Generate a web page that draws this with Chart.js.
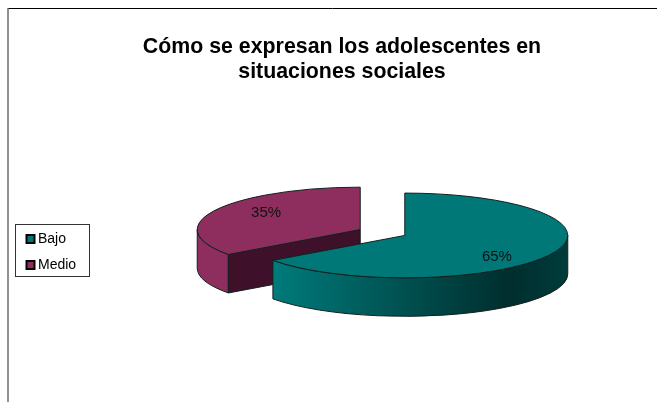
<!DOCTYPE html>
<html>
<head>
<meta charset="utf-8">
<script src="https://cdn.jsdelivr.net/npm/chart.js@4"></script>
<style>
    body { margin: 0; background: #fff; }
    canvas { display: block; }
</style>
</head>
<body>
<canvas id="pie-chart" width="657" height="402"></canvas>
<script>
const categories = ["Bajo", "Medio"];
const percents = [65, 35];
const titleLines = ["Cómo se expresan los adolescentes en", "situaciones sociales"];

const topColors = ["#007878", "#8e2e5e"];

const FONT = "'Liberation Sans', Arial, sans-serif";
const PIE_X = 382.5;
const PIE_Y = 232.5;
const SQUASH = 0.26;
const DEPTH = 38.5;
const EXPLODE = 25;
const EDGE = "#14201f";

const toPie = (ctx, chart) => {
    const area = chart.chartArea;
    ctx.translate(PIE_X, PIE_Y);
    ctx.scale(1, SQUASH);
    ctx.translate(-(area.left + area.right) / 2, -(area.top + area.bottom) / 2);
}

const drawWall = (ctx, chart, arc, fill) => {
    const r = arc.outerRadius;
    const d = DEPTH / SQUASH;
    const from = Math.max(arc.startAngle, 0);
    const to = Math.min(arc.endAngle, Math.PI);

    ctx.save();
    toPie(ctx, chart);
    ctx.beginPath();
    ctx.arc(arc.x, arc.y, r, from, to);
    ctx.arc(arc.x, arc.y + d, r, to, from, true);
    ctx.closePath();
    ctx.fillStyle = fill(ctx, arc, r);
    ctx.fill();
    ctx.restore();
    ctx.stroke();
}

const drawCutFace = (ctx, chart, arc, color) => {
    const r = arc.outerRadius;
    const d = DEPTH / SQUASH;
    const px = arc.x + Math.cos(arc.startAngle) * r;
    const py = arc.y + Math.sin(arc.startAngle) * r;

    ctx.save();
    toPie(ctx, chart);
    ctx.beginPath();
    ctx.moveTo(arc.x, arc.y);
    ctx.lineTo(px, py);
    ctx.lineTo(px, py + d);
    ctx.lineTo(arc.x, arc.y + d);
    ctx.closePath();
    ctx.fillStyle = color;
    ctx.fill();
    ctx.restore();
    ctx.stroke();
}

const piePlugin = {
    id: "pie3d",
    afterDatasetsUpdate(chart) {
        // pull the two slices apart along their middle angle
        chart.getDatasetMeta(0).data.forEach(arc => {
            const mid = (arc.startAngle + arc.endAngle) / 2;
            arc.x += Math.cos(mid) * EXPLODE;
            arc.y += Math.sin(mid) * EXPLODE;
        });
    },
    beforeDraw(chart) {
        const ctx = chart.ctx;
        ctx.save();
        ctx.fillStyle = "#fff";
        ctx.fillRect(0, 0, chart.width, chart.height);
        ctx.strokeStyle = "#000";
        ctx.lineWidth = 1;
        ctx.beginPath();
        ctx.moveTo(8, 8.5);
        ctx.lineTo(chart.width, 8.5);
        ctx.stroke();
        ctx.strokeStyle = "#6e6e6e";
        ctx.lineWidth = 1.5;
        ctx.beginPath();
        ctx.moveTo(8, 8);
        ctx.lineTo(8, chart.height);
        ctx.stroke();
        ctx.restore();
    },
    beforeDatasetsDraw(chart) {
        const ctx = chart.ctx;
        const [teal, purple] = chart.getDatasetMeta(0).data;

        ctx.save();
        ctx.strokeStyle = EDGE;
        ctx.lineWidth = 1;
        drawWall(ctx, chart, purple, () => "#8e2e5e");
        drawCutFace(ctx, chart, purple, "#3f1029");
        drawWall(ctx, chart, teal, (c, arc, r) => {
            const grad = c.createLinearGradient(arc.x - r * 0.81, 0, arc.x + r, 0);
            grad.addColorStop(0, "#007b7b");
            grad.addColorStop(0.8, "#002e2e");
            grad.addColorStop(1, "#003b3b");
            return grad;
        });
        ctx.restore();

        ctx.save();
        toPie(ctx, chart);
    },
    afterDatasetsDraw(chart) {
        const ctx = chart.ctx;
        ctx.restore();

        const area = chart.chartArea;
        const arcs = chart.getDatasetMeta(0).data;
        arcs.forEach((arc, i) => {
            ctx.save();
            ctx.save();
            toPie(ctx, chart);
            ctx.beginPath();
            ctx.moveTo(arc.x, arc.y);
            ctx.arc(arc.x, arc.y, arc.outerRadius, arc.startAngle, arc.endAngle);
            ctx.closePath();
            ctx.restore();
            ctx.strokeStyle = EDGE;
            ctx.lineWidth = 1;
            ctx.stroke();

            // percent label
            const mid = (arc.startAngle + arc.endAngle) / 2 + 11 * Math.PI / 180;
            const lx = arc.x + Math.cos(mid) * arc.outerRadius * 0.725 - (area.left + area.right) / 2 + PIE_X;
            const ly = (arc.y + Math.sin(mid) * arc.outerRadius * 0.725 - (area.top + area.bottom) / 2) * SQUASH + PIE_Y;
            ctx.fillStyle = "#111";
            ctx.font = "15px " + FONT;
            ctx.textAlign = "center";
            ctx.textBaseline = "middle";
            ctx.fillText(percents[i] + "%", lx - 1, ly + 2);
            ctx.restore();
        });
    },
    afterDraw(chart) {
        const ctx = chart.ctx;
        ctx.save();
        ctx.strokeStyle = "#333";
        ctx.lineWidth = 1;
        ctx.strokeRect(15.5, 224.5, 74, 52);
        ctx.restore();
    }
};

const ctx = document.getElementById("pie-chart").getContext("2d");

new Chart(ctx, {
    type: "pie",
    data: {
        labels: categories,
        datasets: [{
            data: percents,
            backgroundColor: topColors,
            borderWidth: 0,
            radius: 163
        }]
    },
    options: {
        responsive: false,
        animation: false,
        layout: {
            padding: { left: 18, right: -9 }
        },
        plugins: {
            tooltip: { enabled: false },
            title: {
                display: true,
                text: titleLines,
                color: "#000",
                font: { family: FONT, size: 21.33, weight: "bold", lineHeight: 1.172 },
                padding: { top: 35, bottom: 17 }
            },
            legend: {
                position: "left",
                fullSize: false,
                labels: {
                    color: "#000",
                    font: { family: FONT, size: 14 },
                    usePointStyle: true,
                    pointStyle: "rect",
                    boxWidth: 1,
                    boxHeight: 8,
                    padding: 12,
                    generateLabels: (chart) => categories.map((name, i) => ({
                        text: name,
                        fillStyle: topColors[i],
                        strokeStyle: "#000",
                        lineWidth: 2,
                        pointStyle: "rect",
                        index: i
                    }))
                }
            }
        }
    },
    plugins: [piePlugin]
});
</script>
</body>
</html>
